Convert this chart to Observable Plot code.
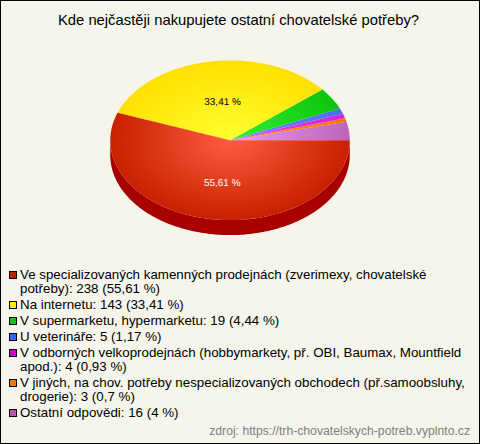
<!DOCTYPE html>
<html lang="cs">
<head>
<meta charset="utf-8">
<script src="https://cdn.jsdelivr.net/npm/d3@7"></script>
<script src="https://cdn.jsdelivr.net/npm/@observablehq/plot@0.6"></script>
<style>
html,body{margin:0;padding:0;background:#f5f5ec;}
#box{position:relative;box-sizing:border-box;width:480px;height:444px;background:#f5f5ec;border:1px solid #000;font-family:"Liberation Sans",Arial,sans-serif;color:#000;overflow:hidden;}
#title{position:absolute;left:0;right:0;top:11px;text-align:center;font-size:14.8px;line-height:17px;padding-right:3px;}
#chart{position:absolute;left:-1px;top:38px;}
#chart svg{display:block;background:transparent;text-rendering:geometricPrecision;}
#legend{position:absolute;left:7px;top:267px;width:465px;font-size:13.33px;line-height:14.3px;}
#legend .row{position:relative;padding-left:12px;margin-bottom:1.55px;}
#legend .sw{position:absolute;left:1px;top:3px;width:6px;height:6px;border:1px solid #000;}
#source{position:absolute;right:9px;top:423px;font-size:12.2px;line-height:14px;color:#808080;}
</style>
</head>
<body>
<div id="box">
<div id="title"></div>
<div id="chart"></div>
<div id="legend"></div>
<div id="source"></div>
</div>
<script>
const titleText = "Kde nejčastěji nakupujete ostatní chovatelské potřeby?";
const sourceText = "zdroj: https://trh-chovatelskych-potreb.vyplnto.cz";
const categories = [
  "Ve specializovaných kamenných prodejnách (zverimexy, chovatelské potřeby)",
  "Na internetu",
  "V supermarketu, hypermarketu",
  "U veterináře",
  "V odborných velkoprodejnách (hobbymarkety, př. OBI, Baumax, Mountfield apod.)",
  "V jiných, na chov. potřeby nespecializovaných obchodech (př.samoobsluhy, drogerie)",
  "Ostatní odpovědi"
];
const counts = [238, 143, 19, 5, 4, 3, 16];
const percents = ["55,61 %", "33,41 %", "4,44 %", "1,17 %", "0,93 %", "0,7 %", "4 %"];
const swatchColors = ["#bb2200", "#ffee00", "#10c010", "#3366ff", "#cc00cc", "#ee7700", "#bb55aa"];
const innerColors = ["#ff5c3e", "#ffff30", "#33f033", "#6f8fff", "#f040f0", "#ff9020", "#ee99ee"];
const outerColors = ["#c82000", "#ffe000", "#0cc40c", "#4a6cf0", "#d820d8", "#ee7700", "#bb66bb"];
const sliceLabels = ["55,61 %", "33,41 %", "", "", "", "", ""];
const labelColors = ["#ffffff", "#000000"];
const sideColor = "#a80000";

const total = d3.sum(counts);
const depth = 0.1875;
const arcStep = Math.PI / 180;

// Slices run counter-clockwise, from the last category at 3 o'clock back to the first.
let cursor = 0;
const slices = [];
for (let i = counts.length - 1; i >= 0; --i) {
  const a0 = cursor, a1 = cursor + counts[i] / total * 2 * Math.PI;
  cursor = a1;
  slices.push({i, a0, a1});
}
const arcPoints = (a0, a1) => {
  const pts = [];
  const n = Math.max(2, Math.ceil((a1 - a0) / arcStep));
  for (let k = 0; k <= n; ++k) {
    const a = a0 + (a1 - a0) * k / n;
    pts.push([Math.cos(a), Math.sin(a)]);
  }
  return pts;
};
const wedges = slices.flatMap(s =>
  [[0, 0], ...arcPoints(s.a0, s.a1)].map(([x, y]) => ({x, y, i: s.i}))
);
const rim = [
  ...arcPoints(Math.PI, 2 * Math.PI).map(([x, y]) => ({x, y})),
  ...arcPoints(Math.PI, 2 * Math.PI).reverse().map(([x, y]) => ({x, y: y - depth}))
];
const labels = slices.filter(s => sliceLabels[s.i]).map(s => {
  const m = (s.a0 + s.a1) / 2;
  return {x: Math.cos(m) * 0.37, y: Math.sin(m) * 0.515 - 0.03, text: sliceLabels[s.i], color: labelColors[s.i]};
});

const plot = Plot.plot({
  width: 480,
  height: 210,
  margin: 0,
  x: {domain: [-1, 1], range: [110, 350], axis: null},
  y: {domain: [-1, 1], range: [21, 181], axis: null},
  marks: [
    Plot.line(rim, {x: "x", y: d => -d.y, fill: sideColor, stroke: "none"}),
    Plot.line(wedges, {x: "x", y: d => -d.y, z: "i", fill: d => `url(#grad${d.i})`, stroke: "none"}),
    Plot.text(labels, {x: "x", y: d => -d.y, text: "text", fill: "color", fontSize: 10, fontFamily: "Liberation Sans, Arial, sans-serif"})
  ]
});
plot.style.background = "transparent";

const sx = plot.scale("x"), sy = plot.scale("y");
const cx = sx.apply(0), cy = sy.apply(0), rx = sx.apply(1) - cx, ry = sy.apply(1) - cy;
const defs = d3.select(plot).insert("defs", ":first-child");
categories.forEach((_, i) => {
  const g = defs.append("radialGradient")
    .attr("id", `grad${i}`)
    .attr("gradientUnits", "userSpaceOnUse")
    .attr("cx", 0).attr("cy", 0).attr("r", 1)
    .attr("gradientTransform", `translate(${cx},${cy}) scale(${rx},${ry})`);
  g.append("stop").attr("offset", "0%").attr("stop-color", innerColors[i]);
  g.append("stop").attr("offset", "100%").attr("stop-color", outerColors[i]);
});

document.getElementById("chart").append(plot);
document.getElementById("title").textContent = titleText;
document.getElementById("source").textContent = sourceText;
const legend = d3.select("#legend");
categories.forEach((c, i) => {
  const row = legend.append("div").attr("class", "row");
  row.append("span").attr("class", "sw").style("background", swatchColors[i]);
  row.append("span").text(`${c}: ${counts[i]} (${percents[i]})`);
});
</script>
</body>
</html>
